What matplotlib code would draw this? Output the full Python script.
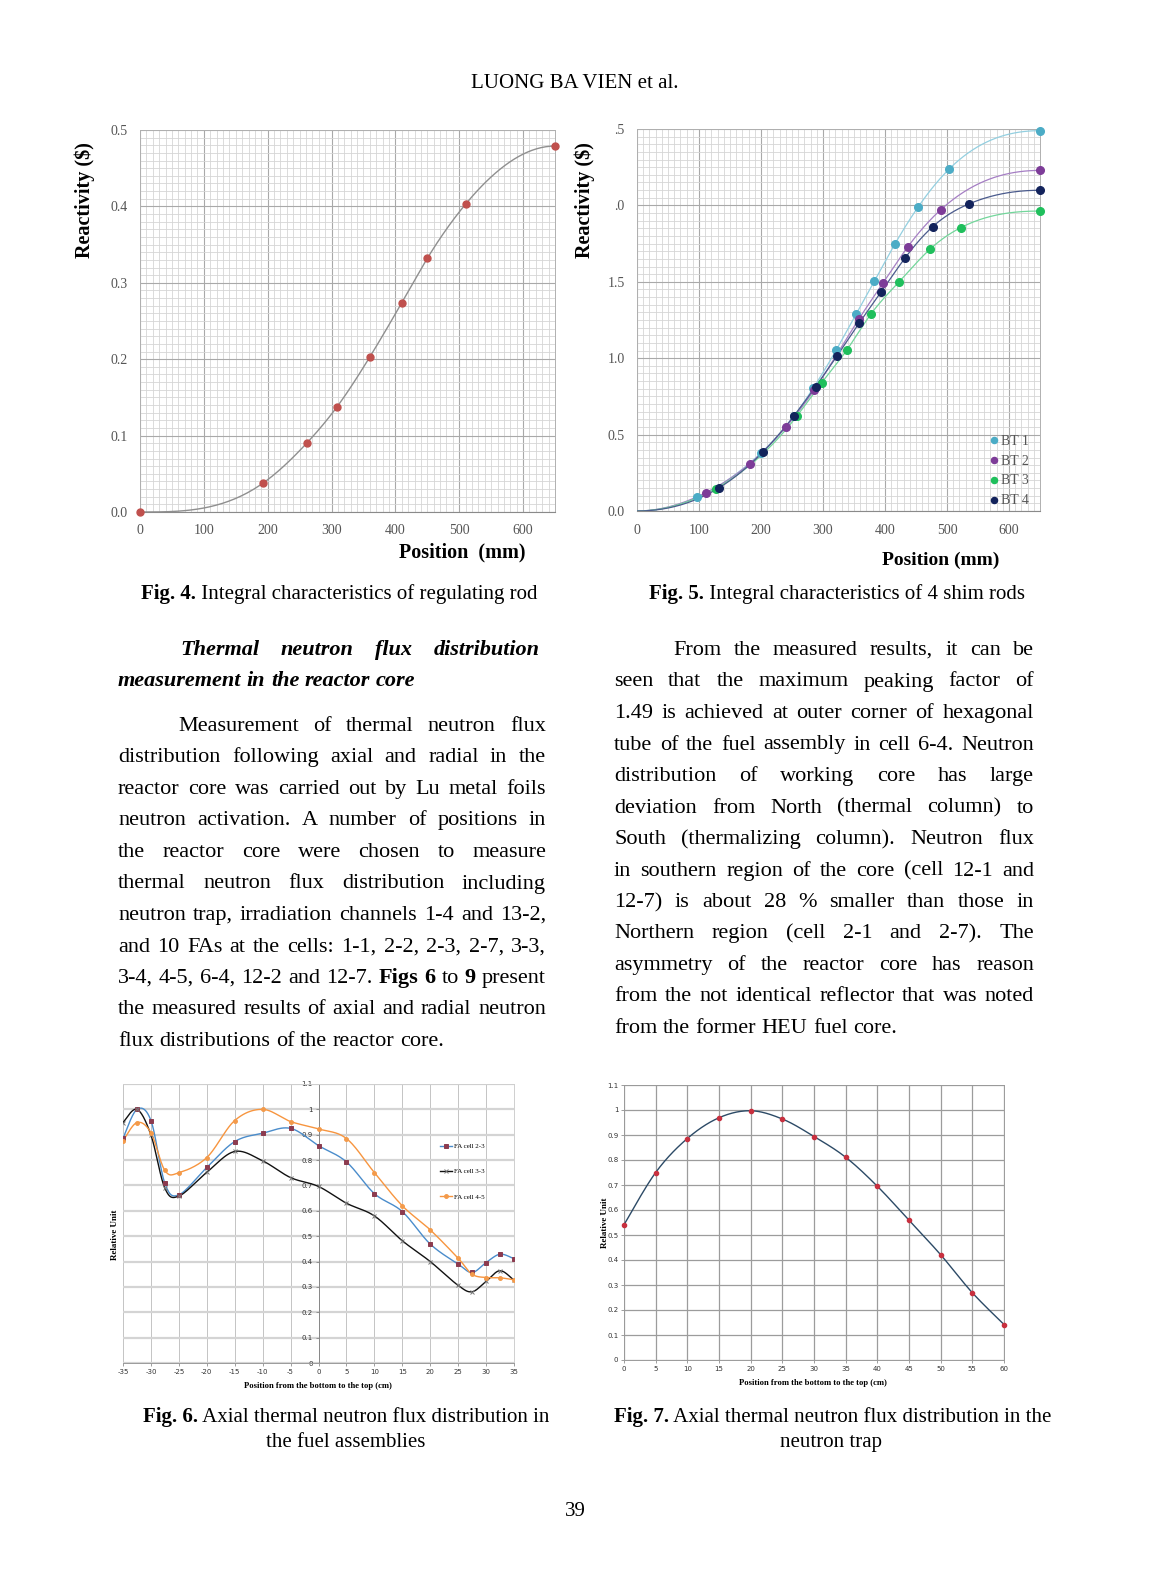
import numpy as np
import matplotlib
matplotlib.use("Agg")
import matplotlib.pyplot as plt
from matplotlib.ticker import MultipleLocator, FixedLocator, FixedFormatter

W, H = 1151, 1594
SERIF = "Liberation Serif"

# ---- Fig. 4 : regulating rod ----
reg_pos = [0, 193, 261, 308, 360, 410, 450, 510, 650]
reg_rho = [0.0, 0.038, 0.090, 0.137, 0.203, 0.274, 0.332, 0.403, 0.479]

# ---- Fig. 5 : shim rods ----
bt1_pos = [0, 97, 200, 253, 284, 321, 353, 383, 416, 453, 504, 650]
bt1_rho = [0.0, 0.089, 0.38, 0.62, 0.803, 1.051, 1.287, 1.505, 1.747, 1.987, 2.240, 2.489]
bt2_pos = [0, 111, 182, 240, 286, 358, 397, 437, 490, 650]
bt2_rho = [0.0, 0.12, 0.31, 0.548, 0.794, 1.257, 1.494, 1.730, 1.972, 2.229]
bt3_pos = [0, 127, 258, 298, 338, 377, 423, 473, 522, 650]
bt3_rho = [0.0, 0.147, 0.622, 0.840, 1.051, 1.287, 1.501, 1.715, 1.854, 1.963]
bt4_pos = [0, 132, 203, 253, 288, 323, 358, 394, 432, 477, 535, 650]
bt4_rho = [0.0, 0.151, 0.386, 0.622, 0.814, 1.017, 1.228, 1.435, 1.654, 1.861, 2.009, 2.099]
bt_labels = ["BT 1", "BT 2", "BT 3", "BT 4"]
fig5_yticklabels = ["0.0", "0.5", "1.0", "1.5", ".0", ".5"]

# ---- Fig. 6 : fuel assemblies ----
fa_pos = [-35, -32.5, -30, -27.5, -25, -20, -15, -10, -5, 0, 5, 10, 15, 20, 25, 27.5, 30, 32.5, 35]
fa23 = [0.886, 1.000, 0.956, 0.708, 0.663, 0.771, 0.873, 0.906, 0.925, 0.857, 0.793, 0.668,
        0.597, 0.469, 0.390, 0.357, 0.396, 0.429, 0.411]
fa33 = [0.948, 1.000, 0.899, 0.689, 0.658, 0.752, 0.834, 0.797, 0.731, 0.696, 0.630, 0.580,
        0.482, 0.400, 0.306, 0.281, 0.322, 0.364, 0.326]
fa45 = [0.876, 0.948, 0.908, 0.759, 0.750, 0.810, 0.956, 1.000, 0.952, 0.923, 0.885, 0.751,
        0.620, 0.525, 0.413, 0.350, 0.337, 0.336, 0.328]
fa_labels = ["FA cell 2-3", "FA cell 3-3", "FA cell 4-5"]

# ---- Fig. 7 : neutron trap ----
trap_pos = [0, 5, 10, 15, 20, 25, 30, 35, 40, 45, 50, 55, 60]
trap_flux = [0.541, 0.750, 0.886, 0.969, 0.997, 0.964, 0.894, 0.811, 0.695, 0.559, 0.421, 0.269, 0.142]

left_heading = ["Thermal neutron flux distribution",
                "measurement in the reactor core"]
left_par = [
    "Measurement of thermal neutron flux",
    "distribution following axial and radial in the",
    "reactor core was carried out by Lu metal foils",
    "neutron activation. A number of positions in",
    "the reactor core were chosen to measure",
    "thermal neutron flux distribution including",
    "neutron trap, irradiation channels 1-4 and 13-2,",
    "and 10 FAs at the cells: 1-1, 2-2, 2-3, 2-7, 3-3,",
    "3-4, 4-5, 6-4, 12-2 and 12-7. *Figs *6 to *9 present",
    "the measured results of axial and radial neutron",
    "flux distributions of the reactor core.",
]
right_par = [
    "From the measured results, it can be",
    "seen that the maximum peaking factor of",
    "1.49 is achieved at outer corner of hexagonal",
    "tube of the fuel assembly in cell 6-4. Neutron",
    "distribution of working core has large",
    "deviation from North (thermal column) to",
    "South (thermalizing column).  Neutron flux",
    "in southern region of the core (cell 12-1 and",
    "12-7) is about 28 % smaller than those in",
    "Northern region (cell 2-1 and 2-7).  The",
    "asymmetry of the reactor core has reason",
    "from the not identical reflector that was noted",
    "from the former HEU fuel core.",
]


def smooth(x, y, n=40):
    # excel-like smoothed line (bezier through the points)
    p = np.column_stack([x, y]).astype(float)
    p = np.vstack([p[0], p, p[-1]])
    t = np.linspace(0, 1, n)[:, None]
    segs = []
    for i in range(1, len(p) - 2):
        p0, p1, p2, p3 = p[i - 1], p[i], p[i + 1], p[i + 2]
        c1 = p1 + (p2 - p0) / 6
        c2 = p2 - (p3 - p1) / 6
        segs.append((1 - t) ** 3 * p1 + 3 * (1 - t) ** 2 * t * c1 + 3 * (1 - t) * t ** 2 * c2 + t ** 3 * p2)
    s = np.vstack(segs)
    return s[:, 0], s[:, 1]


def clamped_spline(x, y, n=40):
    # cubic spline through the points, flat at both ends (S-shaped rod curves)
    x = np.asarray(x, float)
    y = np.asarray(y, float)
    k = len(x)
    h = np.diff(x)
    A = np.zeros((k, k))
    b = np.zeros(k)
    A[0, 0], A[0, 1] = 2 * h[0], h[0]
    b[0] = 6 * ((y[1] - y[0]) / h[0])
    for i in range(1, k - 1):
        A[i, i - 1] = h[i - 1]
        A[i, i] = 2 * (h[i - 1] + h[i])
        A[i, i + 1] = h[i]
        b[i] = 6 * ((y[i + 1] - y[i]) / h[i] - (y[i] - y[i - 1]) / h[i - 1])
    A[-1, -2], A[-1, -1] = h[-1], 2 * h[-1]
    b[-1] = 6 * (-(y[-1] - y[-2]) / h[-1])
    M = np.linalg.solve(A, b)
    xs, ys = [], []
    for i in range(k - 1):
        xx = np.linspace(x[i], x[i + 1], n)
        hi = h[i]
        a = x[i + 1] - xx
        c = xx - x[i]
        yy = (M[i] * a ** 3 + M[i + 1] * c ** 3) / (6 * hi) \
            + (y[i] / hi - M[i] * hi / 6) * a + (y[i + 1] / hi - M[i + 1] * hi / 6) * c
        xs.append(xx)
        ys.append(yy)
    return np.concatenate(xs), np.concatenate(ys)


fig = plt.figure(figsize=(W / 100, H / 100), dpi=100)
renderer = fig.canvas.get_renderer()


def add_ax(l, t, r, b):
    return fig.add_axes([l / W, 1 - b / H, (r - l) / W, (b - t) / H])


def ftext(x, y, s, **kw):
    return fig.text(x / W, 1 - y / H, s, **kw)


def width_of(s, **kw):
    t = fig.text(0, 0, s, **kw)
    w = t.get_window_extent(renderer).width
    t.remove()
    return w


def put_line(words, x0, x1, y, size, justify=True, style="normal", weight="normal"):
    items = []
    for wd in words.split():
        bold = wd.startswith("*")
        wd = wd.lstrip("*")
        kw = dict(family=SERIF, size=size, style=style,
                  weight="bold" if bold else weight)
        items.append((wd, kw, width_of(wd, **kw)))
    total = sum(it[2] for it in items)
    if justify and len(items) > 1:
        gap = (x1 - x0 - total) / (len(items) - 1)
    else:
        gap = size * 100 / 72 * 0.25
    x = x0
    for wd, kw, w in items:
        ftext(x, y, wd, ha="left", va="baseline", **kw)
        x += w + gap


def caption(cx, y, bold, rest, size=15):
    w1 = width_of(bold, family=SERIF, size=size, weight="bold")
    w2 = width_of(rest, family=SERIF, size=size)
    x = cx - (w1 + w2) / 2
    ftext(x, y, bold, family=SERIF, size=size, weight="bold", ha="left", va="baseline")
    ftext(x + w1, y, rest, family=SERIF, size=size, ha="left", va="baseline")


# ---------- Fig. 4 ----------
def graph_paper(ax, xmaj, xmin, ymaj, ymin):
    ax.xaxis.set_major_locator(MultipleLocator(xmaj))
    ax.xaxis.set_minor_locator(MultipleLocator(xmin))
    ax.yaxis.set_major_locator(MultipleLocator(ymaj))
    ax.yaxis.set_minor_locator(MultipleLocator(ymin))
    ax.grid(which="minor", color="#d6d6d6", lw=0.6)
    ax.grid(which="major", color="#a9a9a9", lw=0.8)
    ax.set_axisbelow(True)
    ax.tick_params(which="both", length=0, labelsize=10, labelcolor="#555555", pad=9)
    for side in ["top", "right", "left"]:
        ax.spines[side].set_color("#b0b0b0")
        ax.spines[side].set_linewidth(0.7)
    ax.spines["bottom"].set_color("#8a8a8a")


ax4 = add_ax(140, 130, 555, 512)
ax4.set_xlim(0, 650)
ax4.set_ylim(0, 0.5)
graph_paper(ax4, 100, 10, 0.1, 0.01)
ax4.yaxis.set_major_formatter(matplotlib.ticker.FormatStrFormatter("%.1f"))
sx, sy = clamped_spline(reg_pos, reg_rho)
ax4.plot(sx, sy, color="#8f8f8f", lw=1.0, zorder=3)
ax4.plot(reg_pos, reg_rho, "o", color="#c0504d", ms=5, zorder=4, clip_on=False)
for lab in ax4.get_xticklabels() + ax4.get_yticklabels():
    lab.set_family(SERIF)
ftext(85, 200, "Reactivity ($)", family=SERIF, size=14.5, weight="bold",
      rotation=90, ha="center", va="center")
ftext(462, 552, "Position  (mm)", family=SERIF, size=14.5, weight="bold",
      ha="center", va="center")

# ---------- Fig. 5 ----------
ax5 = add_ax(637, 129, 1040, 511)
ax5.set_xlim(0, 650)
ax5.set_ylim(0, 2.5)
graph_paper(ax5, 100, 10, 0.5, 0.05)
ax5.yaxis.set_major_locator(FixedLocator([0, 0.5, 1.0, 1.5, 2.0, 2.5]))
ax5.yaxis.set_major_formatter(FixedFormatter(fig5_yticklabels))
for lab in ax5.get_xticklabels() + ax5.get_yticklabels():
    lab.set_family(SERIF)
bt_data = [(bt1_pos, bt1_rho), (bt2_pos, bt2_rho), (bt3_pos, bt3_rho), (bt4_pos, bt4_rho)]
bt_marker = ["#4bacc6", "#7d3c98", "#1fbf5c", "#13235c"]
bt_line = ["#93cfe0", "#a57ec4", "#73d69b", "#4a5a8c"]
for (px, py), mc, lc, lab in zip(bt_data, bt_marker, bt_line, bt_labels):
    sx, sy = clamped_spline(px, py)
    ax5.plot(sx, sy, color=lc, lw=0.9, zorder=3)
    ax5.plot(px[1:], py[1:], "o", color=mc, ms=5.5, zorder=4, label=lab, clip_on=False)
leg5 = ax5.legend(loc="upper left", bbox_to_anchor=(0.88, 0.2), frameon=False,
                  handlelength=0.4, handletextpad=0.25, labelspacing=0.5,
                  borderaxespad=0, borderpad=0, markerscale=0.8,
                  prop={"family": SERIF, "size": 10})
for t in leg5.get_texts():
    t.set_color("#555555")
ftext(585, 200, "Reactivity ($)", family=SERIF, size=14.5, weight="bold",
      rotation=90, ha="center", va="center")
ftext(941, 560, "Position (mm)", family=SERIF, size=14, weight="bold",
      ha="center", va="center")

# ---------- Fig. 6 ----------
def excel_axes(ax, xlo, xhi, xstep):
    ax.set_xlim(xlo, xhi)
    ax.set_ylim(0, 1.1)
    ax.xaxis.set_major_locator(MultipleLocator(xstep))
    ax.yaxis.set_major_locator(MultipleLocator(0.1))
    ax.yaxis.set_major_formatter(matplotlib.ticker.FuncFormatter(lambda v, p: f"{v:g}"))
    ax.xaxis.set_major_formatter(matplotlib.ticker.FuncFormatter(lambda v, p: f"{v:g}"))
    ax.tick_params(labelsize=5, length=2, width=0.5, pad=2, color="#777777", labelcolor="#333333")
    ax.set_axisbelow(True)
    for s in ax.spines.values():
        s.set_color("#9a9a9a")
        s.set_linewidth(0.7)


ax6 = add_ax(123, 1084, 514, 1363)
excel_axes(ax6, -35, 35, 5)
ax6.grid(axis="y", color="#d4d4d4", lw=1.6)
ax6.grid(axis="x", color="#c4c4c4", lw=0.7)
ax6.spines["left"].set_position(("data", 0))
ax6.spines["left"].set_color("#888888")
ax6.spines["top"].set_color("#cfcfcf")
ax6.spines["right"].set_color("#cfcfcf")
fa_styles = [
    dict(line="#4a8ccb", marker="s", mc="#8c3b4f", ms=3),
    dict(line="#111111", marker="x", mc="#777777", ms=3),
    dict(line="#f7953f", marker="o", mc="#f39a4a", ms=2.8),
]
for ys, st, lab in zip([fa23, fa33, fa45], fa_styles, fa_labels):
    sx, sy = smooth(fa_pos, ys, n=25)
    ax6.plot(sx, sy, color=st["line"], lw=1.0, zorder=3)
    ax6.plot(fa_pos, ys, st["marker"], color=st["mc"], ms=st["ms"], mew=0.7, zorder=4)
    ax6.plot([], [], color=st["line"], lw=1.0, marker=st["marker"], mfc=st["mc"],
             mec=st["mc"], ms=st["ms"], mew=0.7, label=lab)
ax6.legend(loc="upper left", bbox_to_anchor=(0.812, 0.788), frameon=False,
           handlelength=1.7, handletextpad=0.2, labelspacing=2.8,
           borderaxespad=0, borderpad=0, prop={"family": SERIF, "size": 5})
ftext(115, 1235, "Relative Unit", family=SERIF, size=6.5, weight="bold",
      rotation=90, ha="center", va="center")
ftext(318, 1386, "Position from the bottom to the top (cm)", family=SERIF, size=6.2,
      weight="bold", ha="center", va="center")

# ---------- Fig. 7 ----------
ax7 = add_ax(624, 1085, 1004, 1360)
excel_axes(ax7, 0, 60, 5)
ax7.grid(color="#9c9c9c", lw=0.9)
sx, sy = smooth(trap_pos, trap_flux, n=30)
ax7.plot(sx, sy, color="#2c4a66", lw=1.0, zorder=3)
ax7.plot(trap_pos, trap_flux, "o", color="#c8303f", ms=3, zorder=4, clip_on=False)
ftext(605, 1223, "Relative Unit", family=SERIF, size=6.5, weight="bold",
      rotation=90, ha="center", va="center")
ftext(813, 1383, "Position from the bottom to the top (cm)", family=SERIF, size=6.2,
      weight="bold", ha="center", va="center")

# ---------- page text ----------
ftext(575, 83, "LUONG BA VIEN et al.", family=SERIF, size=15, ha="center", va="center")

caption(339, 599, "Fig. 4.", " Integral characteristics of regulating rod")
caption(837, 599, "Fig. 5.", " Integral characteristics of 4 shim rods")
caption(346, 1422, "Fig. 6.", " Axial thermal neutron flux distribution in")
ftext(346, 1447, "the fuel assemblies", family=SERIF, size=15, ha="center", va="baseline")
caption(833, 1422, "Fig. 7.", " Axial thermal neutron flux distribution in the")
ftext(831, 1447, "neutron trap", family=SERIF, size=15, ha="center", va="baseline")

BODY = 16
LH = 31.5
put_line(left_heading[0], 180, 540, 655, BODY, style="italic", weight="bold")
put_line(left_heading[1], 118, 540, 686, BODY, justify=False, style="italic", weight="bold")

for i, line in enumerate(left_par):
    x0 = 178 if i == 0 else 118
    put_line(line, x0, 546, 731 + i * LH, BODY, justify=(i < len(left_par) - 1))

for i, line in enumerate(right_par):
    x0 = 673 if i == 0 else 614
    put_line(line, x0, 1034, 655 + i * LH, BODY, justify=(i < len(right_par) - 1))

ftext(575, 1512, "39", family=SERIF, size=15, ha="center", va="center")

fig.savefig("out.png", dpi=100, facecolor="white")
